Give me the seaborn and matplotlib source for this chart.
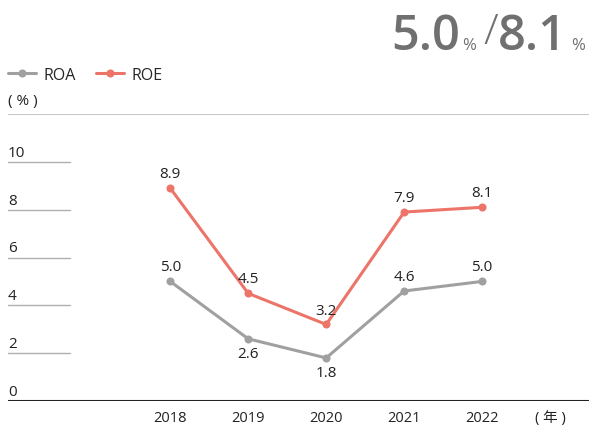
import matplotlib
matplotlib.use("Agg")
import matplotlib.pyplot as plt
import seaborn as sns
import pandas as pd

years = ["2018", "2019", "2020", "2021", "2022"]
roa = [5.0, 2.6, 1.8, 4.6, 5.0]
roe = [8.9, 4.5, 3.2, 7.9, 8.1]
roa_label_below = [False, True, True, False, False]
yticks = [0, 2, 4, 6, 8, 10]
series_names = ["ROA", "ROE"]
colors = {"ROA": "#a0a0a0", "ROE": "#ec7468"}

sns.set_theme(style="white")
plt.rcParams['font.family'] = ['Open Sans', 'Noto Sans CJK JP', 'DejaVu Sans']

PX = 72 / 100  # points per pixel

df = pd.DataFrame({
    "idx": list(range(len(years))) * 2,
    "value": roa + roe,
    "series": ["ROA"] * len(years) + ["ROE"] * len(years),
})

fig = plt.figure(figsize=(5.89, 4.27), dpi=100)
ax = fig.add_axes([8/589, 25/427, 581/589, 287/427])
sns.lineplot(data=df, x="idx", y="value", hue="series", palette=colors,
             marker="o", markersize=5.8, markeredgewidth=0, linewidth=2.2,
             ax=ax, legend=False)
ax.set_xlim(-2.08, 5.37)
ax.set_ylim(0, 12)
for s in ax.spines.values():
    s.set_visible(False)
ax.set_xlabel("")
ax.set_ylabel("")
ax.set_yticks([])
ax.set_xticks(range(len(years)))
FS = 11
ax.set_xticklabels(years, fontsize=10.5, color="#222222")
for lbl in ax.get_xticklabels():
    lbl.set_verticalalignment("center")
ax.tick_params(axis="x", length=0, pad=17 * PX)

# grid segments
for t in yticks[1:]:
    ax.axhline(t, xmin=0, xmax=0.107, color="#b0b0b0", lw=1.0)
for t in yticks:
    ax.annotate(str(t), (0, t), xycoords=("axes fraction", "data"),
                xytext=(0, 2 * PX), textcoords="offset points",
                ha="left", va="bottom", fontsize=FS, color="#222222")
ax.axhline(0, color="#222222", lw=1.5)
ax.axhline(12, color="#c8c8c8", lw=1.5)

# data labels
for i, v in enumerate(roe):
    ax.annotate(f"{v:.1f}", (i, v), xytext=(0, 5), textcoords="offset points",
                ha="center", va="bottom", fontsize=FS, color="#222222")
for i, v in enumerate(roa):
    if roa_label_below[i]:
        ax.annotate(f"{v:.1f}", (i, v), xytext=(0, -5), textcoords="offset points",
                    ha="center", va="top", fontsize=FS, color="#222222")
    else:
        ax.annotate(f"{v:.1f}", (i, v), xytext=(0, 5), textcoords="offset points",
                    ha="center", va="bottom", fontsize=FS, color="#222222")

ax.annotate("( 年 )", (4.88, 0), xycoords="data", xytext=(0, -17 * PX),
            textcoords="offset points", ha="center", va="center",
            fontsize=10.5, color="#222222")
fig.text(8/589, 1 - 101/427, "( % )", ha="left", va="center",
         fontsize=FS, color="#222222")

# legend
from matplotlib.lines import Line2D
handles = [Line2D([0], [0], color=colors[n], marker="o", markersize=5.8,
                  markeredgewidth=0, lw=2.2) for n in series_names]
fig.legend(handles, series_names, loc="center left",
           bbox_to_anchor=(8/589, 1 - 76/427), ncol=2, frameon=False,
           fontsize=11.5, handlelength=1.75, handletextpad=0.45,
           columnspacing=1.3, borderaxespad=0, borderpad=0)

# headline
title_color = "#707070"
base = 1 - 50/427
fig.text(460/589, base, "5.0", ha="right", va="baseline",
         fontsize=35, fontweight="semibold", color=title_color)
fig.text(462/589, base, "%", ha="left", va="baseline",
         fontsize=12, color=title_color)
fig.text(491/589, 1 - 33/427, "/", ha="center", va="center",
         fontsize=31, fontweight="light", color=title_color)
fig.text(567/589, base, "8.1", ha="right", va="baseline",
         fontsize=35, fontweight="semibold", color=title_color)
fig.text(571/589, base, "%", ha="left", va="baseline",
         fontsize=12, color=title_color)

fig.savefig("out.png", dpi=100)
